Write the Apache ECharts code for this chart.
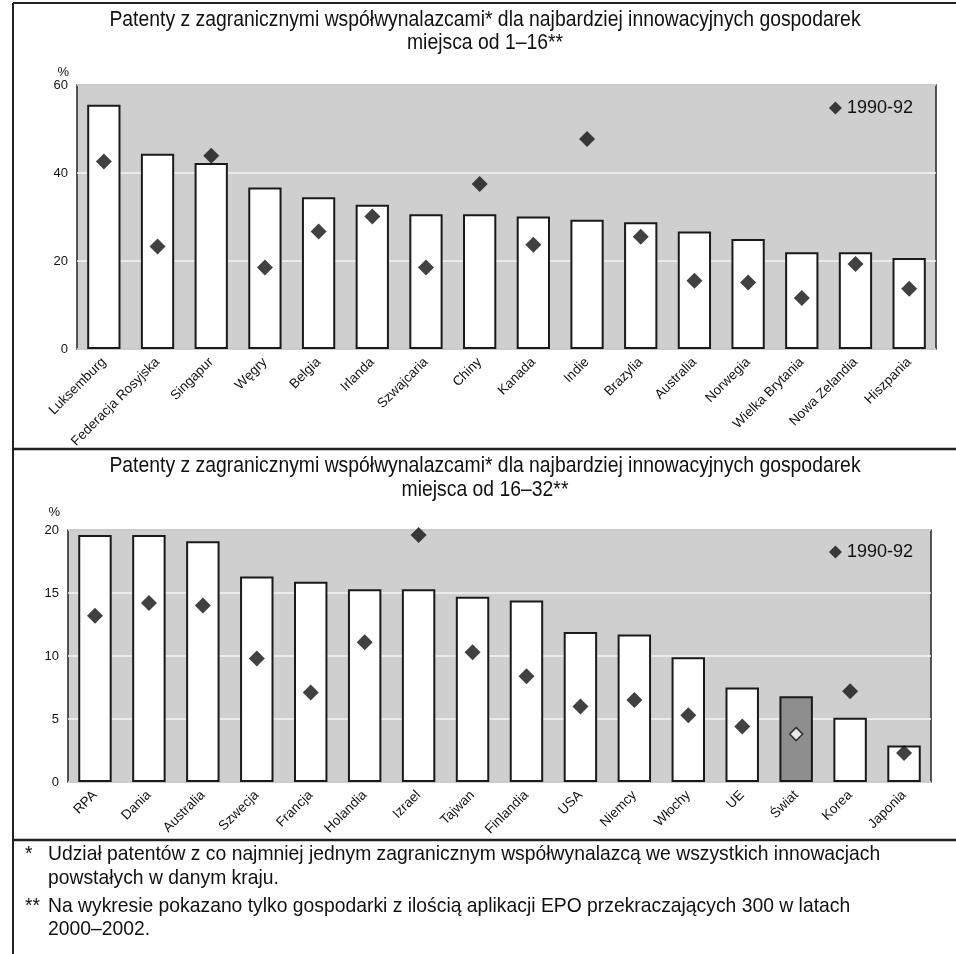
<!DOCTYPE html>
<html>
<head>
<meta charset="utf-8">
<script src="https://cdn.jsdelivr.net/npm/echarts@6/dist/echarts.min.js"></script>
<style>
  html, body { margin: 0; padding: 0; background: #fff; }
  #chart { width: 956px; height: 954px; }
</style>
</head>
<body>
<div id="chart"></div>
<script>
  // miejsca 1-16
  var catsTop = ['Luksemburg', 'Federacja Rosyjska', 'Singapur', 'Węgry', 'Belgia', 'Irlanda', 'Szwajcaria', 'Chiny',
    'Kanada', 'Indie', 'Brazylia', 'Australia', 'Norwegia', 'Wielka Brytania', 'Nowa Zelandia', 'Hiszpania']
  var barsTop = [55.5, 44.4, 42.3, 36.7, 34.5, 32.8, 30.6, 30.6, 30.1, 29.4, 28.8, 26.7, 25.0, 22.0, 22.0, 20.7]
  var dotsTop = [42.6, 23.3, 43.9, 18.5, 26.7, 30.1, 18.5, 37.5, 23.7, 47.7, 25.5, 15.5, 15.1, 11.6, 19.3, 13.7]
  var ticksTop = [0, 20, 40, 60]

  // miejsca 16-32
  var catsBottom = ['RPA', 'Dania', 'Australia', 'Szwecja', 'Francja', 'Holandia', 'Izrael', 'Tajwan',
    'Finlandia', 'USA', 'Niemcy', 'Włochy', 'UE', 'Świat', 'Korea', 'Japonia']
  var barsBottom = [19.6, 19.6, 19.1, 16.3, 15.9, 15.3, 15.3, 14.7, 14.4, 11.9, 11.7, 9.9, 7.5, 6.8, 5.1, 2.9]
  var dotsBottom = [13.2, 14.2, 14.0, 9.8, 7.1, 11.1, 19.6, 10.3, 8.4, 6.0, 6.5, 5.3, 4.4, 3.8, 7.2, 2.3]
  var ticksBottom = [0, 5, 10, 15, 20]

  var legendName = '1990-92'
  var highlight = 'Świat'

  var sans = '"Liberation Sans", Arial, sans-serif'

  function barData(cats, vals) {
    return vals.map(function(v, i) {
      if (cats[i] === highlight) {
        return { value: v, itemStyle: { color: '#8e8e8e' } }
      }
      return v
    })
  }
  function dotData(cats, vals) {
    return vals.map(function(v, i) {
      if (cats[i] === highlight) {
        return { value: v, itemStyle: { color: '#fff', borderColor: '#111', borderWidth: 1.5 }, symbolSize: 13 }
      }
      return v
    })
  }

  function xAx(cats, gridIndex) {
    return {
      type: 'category',
      gridIndex: gridIndex,
      data: cats,
      axisTick: { show: false },
      axisLine: { show: false },
      axisLabel: { interval: 0, rotate: 45, margin: 11, fontSize: 13.5, color: '#111', fontFamily: sans }
    }
  }
  function yAx(ticks, gridIndex, gap) {
    return {
      type: 'value',
      gridIndex: gridIndex,
      min: ticks[0],
      max: ticks[ticks.length - 1],
      interval: ticks[1] - ticks[0],
      name: '%',
      nameLocation: 'end',
      nameGap: gap,
      nameTextStyle: { color: '#111', fontSize: 13, fontFamily: sans, align: 'right', padding: [0, 8, 0, 0] },
      axisTick: { show: false },
      axisLine: { show: false },
      axisLabel: { color: '#111', fontSize: 13, fontFamily: sans, margin: 9 },
      splitLine: { show: true, lineStyle: { color: '#f4f4f4', width: 1.5 } }
    }
  }

  // tekst zwezony (brak kroju "Narrow")
  function txt(x, y, s, align, size, sx) {
    return {
      type: 'text', x: x, y: y, scaleX: sx,
      style: { text: s, align: align, verticalAlign: 'middle', font: size + 'px ' + sans, fill: '#111' }
    }
  }

  var chart = echarts.init(document.getElementById('chart'))

  chart.setOption({
    animation: false,
    grid: [
      { left: 77, top: 85, width: 859, height: 264, show: true, backgroundColor: '#cfcfcf', borderColor: '#222', borderWidth: 1.5 },
      { left: 68, top: 530, width: 863, height: 252, show: true, backgroundColor: '#cfcfcf', borderColor: '#222', borderWidth: 1.5 }
    ],
    legend: [
      { data: [legendName], right: 43, top: 99, padding: 0, icon: 'diamond', itemWidth: 13, itemHeight: 13,
        textStyle: { fontSize: 18, color: '#111', fontFamily: sans } },
      { data: [legendName], right: 43, top: 543, padding: 0, icon: 'diamond', itemWidth: 13, itemHeight: 13,
        textStyle: { fontSize: 18, color: '#111', fontFamily: sans } }
    ],
    xAxis: [xAx(catsTop, 0), xAx(catsBottom, 1)],
    yAxis: [yAx(ticksTop, 0, 6), yAx(ticksBottom, 1, 11)],
    series: [
      {
        name: '2000-02', type: 'bar', xAxisIndex: 0, yAxisIndex: 0, barWidth: '62%',
        itemStyle: { color: '#fff', borderColor: '#1a1a1a', borderWidth: 2 },
        data: barData(catsTop, barsTop)
      },
      {
        name: legendName, type: 'scatter', xAxisIndex: 0, yAxisIndex: 0, symbol: 'diamond', symbolSize: 16,
        clip: false, itemStyle: { color: '#111' }, z: 5,
        data: dotData(catsTop, dotsTop)
      },
      {
        name: '2000-02', type: 'bar', xAxisIndex: 1, yAxisIndex: 1, barWidth: '62%',
        itemStyle: { color: '#fff', borderColor: '#1a1a1a', borderWidth: 2 },
        data: barData(catsBottom, barsBottom)
      },
      {
        name: legendName, type: 'scatter', xAxisIndex: 1, yAxisIndex: 1, symbol: 'diamond', symbolSize: 16,
        clip: false, itemStyle: { color: '#111' }, z: 5,
        data: dotData(catsBottom, dotsBottom)
      }
    ],
    graphic: [
      // ramki
      { type: 'line', shape: { x1: 13, y1: 3, x2: 956, y2: 3 }, style: { stroke: '#222', lineWidth: 2 } },
      { type: 'line', shape: { x1: 13, y1: 3, x2: 13, y2: 954 }, style: { stroke: '#222', lineWidth: 2 } },
      { type: 'line', shape: { x1: 13, y1: 449, x2: 956, y2: 449 }, style: { stroke: '#222', lineWidth: 2.5 } },
      { type: 'line', shape: { x1: 13, y1: 840, x2: 956, y2: 840 }, style: { stroke: '#222', lineWidth: 2.5 } },
      // tytuly
      txt(485, 20, 'Patenty z zagranicznymi współwynalazcami* dla najbardziej innowacyjnych gospodarek', 'center', 22, 0.88),
      txt(485, 43, 'miejsca od 1–16**', 'center', 22, 0.88),
      txt(485, 466, 'Patenty z zagranicznymi współwynalazcami* dla najbardziej innowacyjnych gospodarek', 'center', 22, 0.88),
      txt(485, 490, 'miejsca od 16–32**', 'center', 22, 0.88),
      // przypisy
      txt(25, 854, '*', 'left', 21, 0.92),
      txt(48, 854, 'Udział patentów z co najmniej jednym zagranicznym współwynalazcą we wszystkich innowacjach', 'left', 21, 0.92),
      txt(48, 878, 'powstałych w danym kraju.', 'left', 21, 0.92),
      txt(25, 906, '**', 'left', 21, 0.92),
      txt(48, 906, 'Na wykresie pokazano tylko gospodarki z ilością aplikacji EPO przekraczających 300 w latach', 'left', 21, 0.92),
      txt(48, 929, '2000–2002.', 'left', 21, 0.92)
    ]
  })
</script>
</body>
</html>
